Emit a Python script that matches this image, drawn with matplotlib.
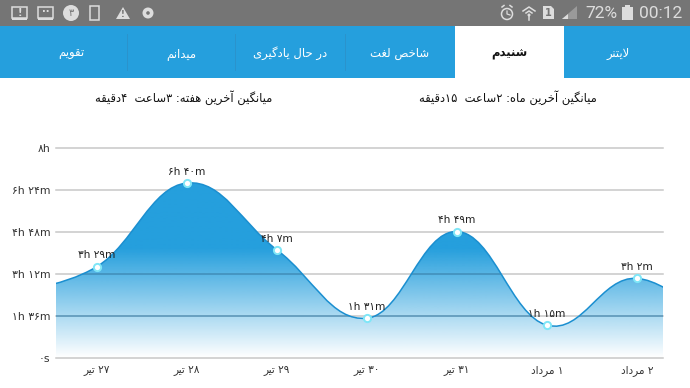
#!/usr/bin/env python3
# -*- coding: utf-8 -*-
"""Weekly listening time screen: spline area chart under a phone app header."""

import numpy as np
import matplotlib
matplotlib.use("Agg")
import matplotlib.pyplot as plt
from matplotlib.patches import Circle, PathPatch, Polygon, Rectangle
from matplotlib.path import Path

plt.rcParams["font.family"] = ["DejaVu Sans"]

# chart data (minutes per day)
days = ["۲۷ تیر", "۲۸ تیر", "۲۹ تیر", "۳۰ تیر", "۳۱ تیر", "۱ مرداد", "۲ مرداد"]
minutes = [209, 400, 247, 91, 289, 75, 182]
point_labels = ["۳h ۲۹m", "۶h ۴۰m", "۴h ۷m", "۱h ۳۱m", "۴h ۴۹m", "۱h ۱۵m", "۳h ۲m"]
# the days just outside the visible window
minutes_before = 150
minutes_after = 45

y_ticks = [0, 96, 192, 288, 384, 480]
y_tick_labels = ["۰s", "۱h ۳۶m", "۳h ۱۲m", "۴h ۴۸m", "۶h ۲۴m", "۸h"]

tabs = ["تقویم", "میدانم", "در حال یادگیری", "شاخص لغت", "شنیدم", "لایتنر"]
week_avg = "میانگین آخرین هفته: ۳ساعت  ۴دقیقه"
month_avg = "میانگین آخرین ماه: ۲ساعت  ۱۵دقیقه"

BLUE = "#259fdd"
LINE = "#1b8fd0"

# isolated, final, initial, medial
FORMS = {
    "ا": (0xFE8D, 0xFE8E), "آ": (0xFE81, 0xFE82), "د": (0xFEA9, 0xFEAA),
    "ر": (0xFEAD, 0xFEAE), "و": (0xFEED, 0xFEEE),
    "ت": (0xFE95, 0xFE96, 0xFE97, 0xFE98), "ح": (0xFEA1, 0xFEA2, 0xFEA3, 0xFEA4),
    "خ": (0xFEA5, 0xFEA6, 0xFEA7, 0xFEA8), "س": (0xFEB1, 0xFEB2, 0xFEB3, 0xFEB4),
    "ش": (0xFEB5, 0xFEB6, 0xFEB7, 0xFEB8), "ص": (0xFEB9, 0xFEBA, 0xFEBB, 0xFEBC),
    "ع": (0xFEC9, 0xFECA, 0xFECB, 0xFECC), "غ": (0xFECD, 0xFECE, 0xFECF, 0xFED0),
    "ف": (0xFED1, 0xFED2, 0xFED3, 0xFED4), "ق": (0xFED5, 0xFED6, 0xFED7, 0xFED8),
    "ل": (0xFEDD, 0xFEDE, 0xFEDF, 0xFEE0), "م": (0xFEE1, 0xFEE2, 0xFEE3, 0xFEE4),
    "ن": (0xFEE5, 0xFEE6, 0xFEE7, 0xFEE8), "ه": (0xFEE9, 0xFEEA, 0xFEEB, 0xFEEC),
    "ی": (0xFBFC, 0xFBFD, 0xFBFE, 0xFBFF), "گ": (0xFB92, 0xFB93, 0xFB94, 0xFB95),
}
DIGITS = "۰۱۲۳۴۵۶۷۸۹"


def fa(text):
    """Shape Persian text for matplotlib, which does no joining or bidi itself."""
    out = []
    i = 0
    n = len(text)
    while i < n:
        c = text[i]
        if c not in FORMS:
            out.append(c)
            i += 1
            continue
        prev = text[i - 1] if i > 0 else ""
        joins_prev = prev in FORMS and len(FORMS[prev]) == 4
        if c == "ل" and i + 1 < n and text[i + 1] == "ا":
            out.append(chr(0xFEFC if joins_prev else 0xFEFB))
            i += 2
            continue
        nxt = text[i + 1] if i + 1 < n else ""
        f = FORMS[c]
        joins_next = len(f) == 4 and nxt in FORMS
        if joins_prev and joins_next:
            out.append(chr(f[3]))
        elif joins_prev:
            out.append(chr(f[1]))
        elif joins_next:
            out.append(chr(f[2]))
        else:
            out.append(chr(f[0]))
        i += 1
    # visual order, digit runs stay left to right
    rev = "".join(out)[::-1]
    res, run = [], []
    for c in rev:
        if c in DIGITS:
            run.append(c)
        else:
            res.extend(run[::-1])
            run = []
            res.append(c)
    res.extend(run[::-1])
    return "".join(res)


def spline_path(xs, ys, smoothing=1.5):
    """Bezier spline through the points, tangent from the neighbouring points."""
    n = len(xs)
    lefts = [(xs[0], ys[0])] * n
    rights = [(xs[0], ys[0])] * n
    lefts[-1] = rights[-1] = (xs[-1], ys[-1])
    for i in range(1, n - 1):
        lx = (smoothing * xs[i] + xs[i - 1]) / (smoothing + 1)
        ly = (smoothing * ys[i] + ys[i - 1]) / (smoothing + 1)
        rx = (smoothing * xs[i] + xs[i + 1]) / (smoothing + 1)
        ry = (smoothing * ys[i] + ys[i + 1]) / (smoothing + 1)
        corr = (ry - ly) * (rx - xs[i]) / (rx - lx) + ys[i] - ry
        lefts[i] = (lx, ly + corr)
        rights[i] = (rx, ry + corr)
    verts = [(xs[0], ys[0])]
    codes = [Path.MOVETO]
    for i in range(n - 1):
        verts += [rights[i], lefts[i + 1], (xs[i + 1], ys[i + 1])]
        codes += [Path.CURVE4] * 3
    return verts, codes


W, H = 690, 388
fig = plt.figure(figsize=(W / 100, H / 100), dpi=100, facecolor="white")

# ---- chart ----
x_left, x_right, y_top, y_bottom = 56, 663, 148, 358
ax = fig.add_axes([x_left / W, 1 - y_bottom / H, (x_right - x_left) / W, (y_bottom - y_top) / H])

x = np.arange(len(days))
all_x = np.concatenate([[-1], x, [len(days)]]).astype(float)
all_y = np.array([minutes_before] + minutes + [minutes_after], dtype=float)
verts, codes = spline_path(all_x, all_y)

ax.set_yticks(y_ticks)
ax.set_yticklabels(y_tick_labels, fontsize=7.8, color="#333333")
ax.set_xticks(x)
ax.set_xticklabels([fa(d) for d in days], fontsize=7.6, color="#333333")
ax.tick_params(axis="both", length=0)
ax.tick_params(axis="y", pad=4)
ax.tick_params(axis="x", pad=5)
ax.grid(axis="y", color="#c8c8c8", linewidth=1.1)
ax.set_axisbelow(True)
for gl in ax.get_ygridlines():
    gl.set_clip_on(False)
for s in ax.spines.values():
    s.set_visible(False)
ax.patch.set_alpha(0)

# blue fading out downward
ramp = np.ones((256, 1, 4))
ramp[:, :, 0:3] = matplotlib.colors.to_rgb(BLUE)
rows = np.linspace(480, 0, 256)
ramp[:, 0, 3] = np.clip(rows / 250.0, 0, 1)
im = ax.imshow(ramp, aspect="auto", extent=[-1, len(days), 0, 480], zorder=1.5,
               interpolation="bilinear")
area = Path(verts + [(all_x[-1], 0), (all_x[0], 0), verts[0]],
            codes + [Path.LINETO, Path.LINETO, Path.LINETO])
clip = PathPatch(area, transform=ax.transData, facecolor="none", edgecolor="none")
ax.add_patch(clip)
im.set_clip_path(clip)

# the two lower gridlines stay visible through the fill, darker
inner = ax.hlines(y_ticks[1:3], all_x[0], all_x[-1], colors="#3c7fa8", alpha=0.6,
                  linewidth=1.1, zorder=1.7)
inner.set_clip_path(clip)

ax.add_patch(PathPatch(Path(verts, codes), facecolor="none", edgecolor=LINE, linewidth=1.1, zorder=2))
ax.plot(x, minutes, ls="none", marker="o", ms=5.2, mfc="white", mec="#7fe6f7", mew=1.4, zorder=3)
for xi, yi, lab in zip(x, minutes, point_labels):
    ax.annotate(lab, (xi, yi), xytext=(0, 4.5), textcoords="offset points", ha="center",
                va="bottom", fontsize=7.6, color="#222222", zorder=4)

ax.set_xlim((x_left - 97) / 90.0, (x_right - 97) / 90.0)
ax.set_ylim(0, 480)

# ---- app chrome, in pixel coordinates ----
ui = fig.add_axes([0, 0, 1, 1], zorder=-1)
ui.set_xlim(0, W)
ui.set_ylim(H, 0)
ui.axis("off")

ui.add_patch(Rectangle((0, 0), W, 26, color="#757575", lw=0))
ui.add_patch(Rectangle((0, 26), W, 52, color=BLUE, lw=0))
ui.add_patch(Rectangle((455, 26), 109, 52, color="white", lw=0))
for sx in (127, 235, 345):
    ui.plot([sx, sx], [34, 70], color="#2b93cc", lw=0.7)

tab_x = [71, 181, 290, 400, 509, 618]
for i, (tx, label) in enumerate(zip(tab_x, tabs)):
    ui.text(tx, 53.5, fa(label), ha="center", va="center", fontsize=8.4,
            color="#111111" if i == 4 else "white", fontweight="bold" if i == 4 else "normal")

ui.text(184, 98, fa(week_avg), ha="center", va="center", fontsize=8.3, color="#111111")
ui.text(508, 98, fa(month_avg), ha="center", va="center", fontsize=8.3, color="#111111")

# status bar
ICON = "#dddddd"
for bx in (12, 38):
    ui.add_patch(Rectangle((bx, 7), 15, 11, fc="none", ec=ICON, lw=1.1))
    ui.add_patch(Rectangle((bx, 18), 15, 2, color=ICON, lw=0))
ui.text(19.5, 12.5, "!", ha="center", va="center", fontsize=7, color=ICON, fontweight="bold")
ui.text(45.5, 12.5, "··", ha="center", va="center", fontsize=7, color=ICON, fontweight="bold")
ui.add_patch(Circle((71, 13), 8, color=ICON, lw=0))
ui.text(71, 13, "۳", ha="center", va="center", fontsize=7, color="#757575")
ui.add_patch(Rectangle((90, 6), 9, 14, fc="none", ec=ICON, lw=1.1))
ui.add_patch(Polygon([(116, 19), (130, 19), (123, 7)], color=ICON, lw=0))
ui.text(123, 14.5, "!", ha="center", va="center", fontsize=6, color="#757575", fontweight="bold")
ui.add_patch(Circle((148, 13), 5.5, color=ICON, lw=0))
ui.add_patch(Circle((148, 13), 1.8, color="#757575", lw=0))

ui.add_patch(Circle((507, 14), 5.5, fc="none", ec=ICON, lw=1.1))
ui.plot([507, 507, 510], [11, 14, 15], color=ICON, lw=0.9)
ui.plot([502, 504], [7, 5.5], color=ICON, lw=1.1)
ui.plot([510, 512], [5.5, 7], color=ICON, lw=1.1)
ui.add_patch(Circle((529, 15), 1.5, color=ICON, lw=0))
ui.plot([523, 529, 535], [11, 7, 11], color=ICON, lw=1.1)
ui.plot([526, 529, 532], [13, 11, 13], color=ICON, lw=1.1)
ui.plot([529, 529], [15, 20], color=ICON, lw=1.1)
ui.add_patch(Polygon([(543, 19), (543, 6), (551, 6), (554, 9), (554, 19)], color=ICON, lw=0))
ui.text(548.5, 12.5, "1", ha="center", va="center", fontsize=7, color="#757575", fontweight="bold")
ui.add_patch(Polygon([(562, 19), (577, 19), (577, 6)], color="#9a9a9a", lw=0))
ui.add_patch(Polygon([(562, 19), (568, 19), (568, 14)], color=ICON, lw=0))
ui.text(585, 14, "72%", ha="left", va="center", fontsize=12.5, color=ICON, family="Roboto")
ui.add_patch(Rectangle((622, 7), 11, 13, color=ICON, lw=0))
ui.add_patch(Rectangle((625, 5), 5, 2, color=ICON, lw=0))
ui.text(639, 14, "00:12", ha="left", va="center", fontsize=12.5, color=ICON, family="Roboto")

fig.savefig("out.png", dpi=100)
